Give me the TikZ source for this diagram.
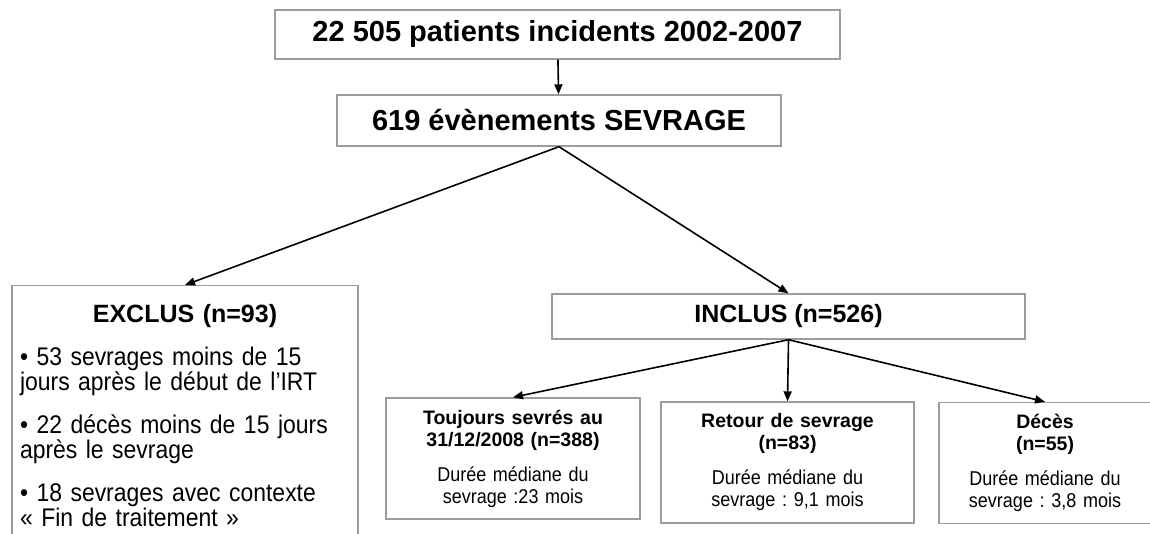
\documentclass[tikz,border=0pt]{standalone}
\usepackage{fontspec}
\setmainfont{Liberation Sans}
\newfontfamily\narrowfont[FakeStretch=0.9]{Liberation Sans}
\usetikzlibrary{arrows.meta}
\definecolor{boxgray}{HTML}{9C9C9C}
\frenchspacing

\begin{document}
\begin{tikzpicture}[x=1pt,y=-1pt,
	box/.style={draw=boxgray, line width=1.4pt, fill=white, inner sep=0pt, align=center},
	bigbox/.style={box, font=\bfseries\fontsize{29}{34}\selectfont},
	subbox/.style={box, minimum width=#1, minimum height=121, text width=#1pt, font=\narrowfont\fontsize{20}{22}\selectfont},
	link/.style={-{Triangle[length=10pt,width=8pt]}, line width=1.6pt}]
				\useasboundingbox (0,0) rectangle (1150,533);
				\clip (0,0) rectangle (1150,533);
				
				% Population
				\node[bigbox, minimum width=565, minimum height=49] (pop) at (557.5,34.5) {22 505 patients incidents 2002-2007};
				\node[bigbox, minimum width=444, minimum height=51] (sev) at (559,120.5) {619 évènements SEVRAGE};
				
				% Exclus
				\node[box, anchor=north, align=left, text width=330pt, inner xsep=8pt, inner ysep=19pt, font=\narrowfont\fontsize{25.5}{25}\selectfont] (exc) at (185,285) {%
					{\centering\normalfont\bfseries\fontsize{25}{25}\selectfont EXCLUS (n=93)\par}\vspace{18pt}
					• 53 sevrages moins de 15\\jours après le début de l’IRT\par\vspace{18pt}
					• 22 décès moins de 15 jours\\après le sevrage\par\vspace{18pt}
					• 18 sevrages avec contexte\\« Fin de traitement »};
				
				% Inclus
				\node[box, font=\bfseries\fontsize{25}{30}\selectfont, minimum width=473, minimum height=45] (inc) at (788.5,316.5) {INCLUS (n=526)};
				
				% Issues
				\node[subbox=254] (tou) at (513,458.5) {{\normalfont\bfseries\fontsize{19.5}{22}\selectfont Toujours sevrés au\\31/12/2008 (n=388)}\\[13pt]Durée médiane du\\sevrage :23 mois};
				\node[subbox=253] (ret) at (787.5,462.5) {{\normalfont\bfseries\fontsize{19.5}{22}\selectfont Retour de sevrage\\(n=83)}\\[13pt]Durée médiane du\\sevrage : 9,1 mois};
				\node[subbox=212] (dec) at (1045,463) {{\normalfont\bfseries\fontsize{19.5}{22}\selectfont Décès\\(n=55)}\\[13pt]Durée médiane du\\sevrage : 3,8 mois};
				
				% Arrows
				\draw[link] (pop) -- (sev);
				\draw[link] (sev.south) -- (exc.north);
				\draw[link] (sev.south) -- (inc.north);
				\draw[link] (inc.south) -- (tou.north);
				\draw[link] (inc.south) -- (ret.north);
				\draw[link] (inc.south) -- (dec.north);
			\end{tikzpicture}
\end{document}
